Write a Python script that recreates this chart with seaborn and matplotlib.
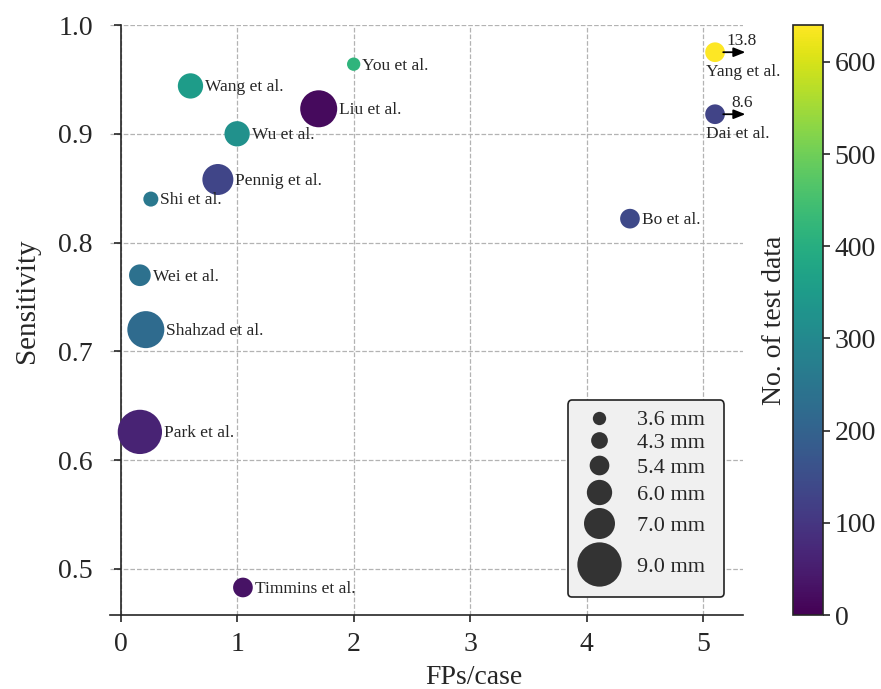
import numpy as np
import pandas as pd
import matplotlib
matplotlib.use("Agg")
import matplotlib.pyplot as plt
import seaborn as sns
from matplotlib.lines import Line2D
from matplotlib.legend_handler import HandlerLine2D

# ------------------- data ---------------------
studies = ["You et al.", "Wang et al.", "Liu et al.", "Wu et al.", "Pennig et al.",
           "Shi et al.", "Wei et al.", "Shahzad et al.", "Park et al.", "Timmins et al.",
           "Bo et al.", "Yang et al.", "Dai et al."]
fps = [2.0, 0.6, 1.7, 1.0, 0.835, 0.26, 0.166, 0.217, 0.166, 1.05, 4.37, 13.8, 8.6]
sens = [0.964, 0.944, 0.923, 0.900, 0.858, 0.840, 0.770, 0.720, 0.626, 0.483, 0.822, 0.975, 0.918]
n_test = [415, 352, 15, 320, 130, 256, 235, 222, 60, 30, 140, 640, 128]
size_mm = [3.6, 6.0, 8.0, 6.0, 7.0, 4.0, 5.7, 8.0, 9.0, 5.4, 5.4, 5.4, 5.4]

legend_mm = [3.6, 4.3, 5.4, 6.0, 7.0, 9.0]

# marker area (pt^2) per lesion size
size_areas = {3.6: 92, 4.0: 117, 4.3: 145, 5.4: 201, 5.7: 244,
              6.0: 332, 7.0: 498, 8.0: 710, 9.0: 1017}
x_cap = 5.1  # studies beyond the axis are drawn at the edge with an arrow

df = pd.DataFrame({'study': studies, 'fps': fps, 'x': np.minimum(fps, x_cap),
                   'sens': sens, 'n': n_test, 'mm': size_mm})


class SizedMarkerHandler(HandlerLine2D):
    # legend rows grow with the marker so big circles don't overlap
    def legend_artist(self, legend, orig_handle, fontsize, handlebox):
        ms = orig_handle.get_markersize()
        c = (handlebox.height - handlebox.ydescent) / 2
        half = ms / 2 + 1.2
        up = max(handlebox.height - handlebox.ydescent, c + half)
        down = max(handlebox.ydescent, half - c)
        handlebox.ydescent = down
        handlebox.height = up + down
        line = Line2D([handlebox.width / 2], [c], linestyle='', marker='o', markersize=ms,
                      markerfacecolor=orig_handle.get_markerfacecolor(), markeredgewidth=0)
        line.set_transform(handlebox.get_transform())
        handlebox.add_artist(line)
        return line


# ------------------- style ---------------------
sns.set_style("ticks")
plt.rcParams['font.family'] = ['Liberation Serif', 'DejaVu Serif']
plt.rcParams['axes.linewidth'] = 1.2

fig = plt.figure(figsize=(8.81, 6.89), dpi=100)
ax = fig.add_axes([0.1249, 0.1074, 0.7185, 0.8563])
cax = fig.add_axes([0.9001, 0.1074, 0.034, 0.8563])

norm = plt.Normalize(0, max(n_test))
sns.scatterplot(data=df, x='x', y='sens', hue='n', palette='viridis', hue_norm=norm,
                size='mm', sizes=size_areas, linewidth=0, legend=False, ax=ax, zorder=3)

# labels next to the bubbles
for _, r in df.iterrows():
    rad = np.sqrt(size_areas[r['mm']]) / 2
    if r['fps'] > x_cap:
        ax.annotate('', xy=(5.36, r['sens']), xytext=(x_cap + 0.07, r['sens']),
                    arrowprops=dict(arrowstyle='-|>,head_length=0.5,head_width=0.2',
                                    color='black', lw=1.3, mutation_scale=14,
                                    shrinkA=0, shrinkB=0),
                    annotation_clip=False, zorder=4)
        ax.annotate(f"{r['fps']:g}", xy=(5.33, r['sens']), xytext=(0, 8),
                    textcoords='offset points', ha='center', va='center',
                    fontsize=12.5, annotation_clip=False)
        ax.annotate(r['study'], xy=(r['x'], r['sens']), xytext=(-rad + 0.5, -14),
                    textcoords='offset points', ha='left', va='center',
                    fontsize=12.5, annotation_clip=False)
    else:
        ax.annotate(r['study'], xy=(r['x'], r['sens']), xytext=(rad + 1.5, -1),
                    textcoords='offset points', ha='left', va='center',
                    fontsize=12.5)

ax.set_xlim(-0.09, 5.34)
ax.set_ylim(0.4577, 1.0)
ax.set_xticks([0, 1, 2, 3, 4, 5])
ax.set_yticks([0.5, 0.6, 0.7, 0.8, 0.9, 1.0])
ax.set_yticklabels(['0.5', '0.6', '0.7', '0.8', '0.9', '1.0'])
ax.grid(True, linestyle='--', color='#b3b3b3', linewidth=0.9)
ax.set_axisbelow(True)
for s in ['top', 'right']:
    ax.spines[s].set_visible(False)
ax.spines['left'].set_position(('data', 0))
ax.tick_params(labelsize=20, length=5, width=1.2, direction='out')
ax.tick_params(axis='y', pad=15)
ax.tick_params(axis='x', pad=7)
ax.set_xlabel('FPs/case', fontsize=20)
ax.set_ylabel('Sensitivity', fontsize=21)
ax.xaxis.set_label_coords(0.575, -0.084)
ax.yaxis.set_label_coords(-0.111, 0.532)

handles = [Line2D([], [], marker='o', linestyle='', markersize=np.sqrt(size_areas[m]),
                  markerfacecolor='#333333', markeredgewidth=0, label=f'{m:.1f} mm')
           for m in legend_mm]
leg = ax.legend(handles=handles, handler_map={Line2D: SizedMarkerHandler()},
                loc='lower left', bbox_to_anchor=(0.7235, 0.0305, 0.2464, 0.4),
                mode='expand', borderaxespad=0, fontsize=16, frameon=True,
                facecolor='#f0f0f0', edgecolor='#222222', framealpha=1,
                labelspacing=0.0, handletextpad=0.7, borderpad=0.4)
leg.get_frame().set_linewidth(1.2)

sm = plt.cm.ScalarMappable(cmap='viridis', norm=norm)
cbar = fig.colorbar(sm, cax=cax)
cbar.set_ticks([0, 100, 200, 300, 400, 500, 600])
cbar.ax.tick_params(labelsize=20, length=5, width=1.2)
cbar.outline.set_linewidth(1.2)
cbar.set_label('No. of test data', fontsize=20)
cax.yaxis.set_label_position('left')

fig.savefig('out.png', dpi=100)
